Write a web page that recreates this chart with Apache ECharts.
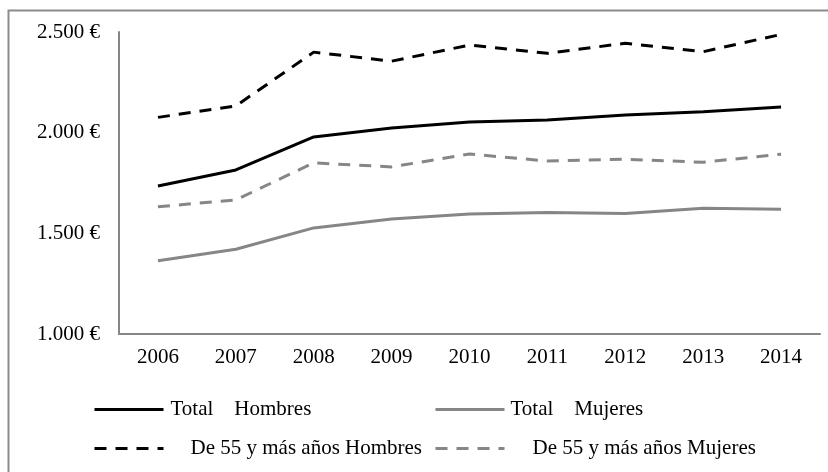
<!DOCTYPE html>
<html>
<head>
<meta charset="utf-8">
<script src="https://cdn.jsdelivr.net/npm/echarts@6/dist/echarts.min.js"></script>
<style>
  html, body { margin: 0; padding: 0; background: #fff; }
  #chart { width: 828px; height: 472px; }
</style>
</head>
<body>
<div id="chart"></div>
<script>
var years = ['2006', '2007', '2008', '2009', '2010', '2011', '2012', '2013', '2014']
var totalHombres = [1735, 1815, 1979, 2023, 2053, 2063, 2088, 2104, 2128]
var totalMujeres = [1364, 1421, 1527, 1571, 1596, 1603, 1598, 1624, 1619]
var mayoresHombres = [2076, 2133, 2400, 2355, 2435, 2394, 2444, 2402, 2488]
var mayoresMujeres = [1632, 1666, 1850, 1830, 1894, 1859, 1868, 1853, 1893]
var names = ['Total    Hombres', 'Total    Mujeres', 'De 55 y más años Hombres', 'De 55 y más años Mujeres']

var font = 'Liberation Serif, Times New Roman, serif'

function euro (v) {
  return String(v).replace(/\B(?=(\d{3})+(?!\d))/g, '.') + ' €'
}

function legendAt (name, left, top, pad) {
  return {
    data: [name],
    left: left,
    top: top,
    itemWidth: 69,
    itemHeight: 14,
    selectedMode: false,
    itemStyle: { opacity: 0, borderWidth: 0 },
    lineStyle: { width: 3 },
    textStyle: { fontFamily: font, fontSize: 21, color: '#000', padding: [0, 0, 0, pad] }
  }
}

var chart = echarts.init(document.getElementById('chart'))
chart.setOption({
  animation: false,
  backgroundColor: '#fff',
  graphic: [{
    type: 'rect',
    shape: { x: 8.5, y: 10.5, width: 900, height: 600 },
    style: { fill: 'none', stroke: '#8c8c8c', lineWidth: 2 },
    silent: true
  }],
  grid: { left: 119, right: 8, top: 32, bottom: 138 },
  legend: [
    legendAt(names[0], 88, 394, 2),
    legendAt(names[1], 429, 394, 1),
    legendAt(names[2], 88, 433, 22),
    legendAt(names[3], 429, 433, 23)
  ],
  xAxis: {
    type: 'category',
    data: years,
    boundaryGap: true,
    axisLine: { lineStyle: { color: '#868686', width: 2 } },
    axisTick: { show: false },
    axisLabel: { fontFamily: font, fontSize: 21, color: '#000', margin: 13 }
  },
  yAxis: {
    type: 'value',
    min: 1000,
    max: 2500,
    interval: 500,
    axisLine: { show: true, lineStyle: { color: '#868686', width: 2 } },
    axisTick: { show: false },
    splitLine: { show: false },
    axisLabel: { fontFamily: font, fontSize: 21, color: '#000', margin: 19, formatter: euro }
  },
  series: [
    {
      name: names[0], type: 'line', data: totalHombres, symbol: 'none',
      lineStyle: { color: '#000', width: 3 }, itemStyle: { color: '#000' }
    },
    {
      name: names[1], type: 'line', data: totalMujeres, symbol: 'none',
      lineStyle: { color: '#868686', width: 3 }, itemStyle: { color: '#868686' }
    },
    {
      name: names[2], type: 'line', data: mayoresHombres, symbol: 'none',
      lineStyle: { color: '#000', width: 3, type: [12, 9] }, itemStyle: { color: '#000' }
    },
    {
      name: names[3], type: 'line', data: mayoresMujeres, symbol: 'none',
      lineStyle: { color: '#868686', width: 3, type: [12, 9] }, itemStyle: { color: '#868686' }
    }
  ]
})
</script>
</body>
</html>
